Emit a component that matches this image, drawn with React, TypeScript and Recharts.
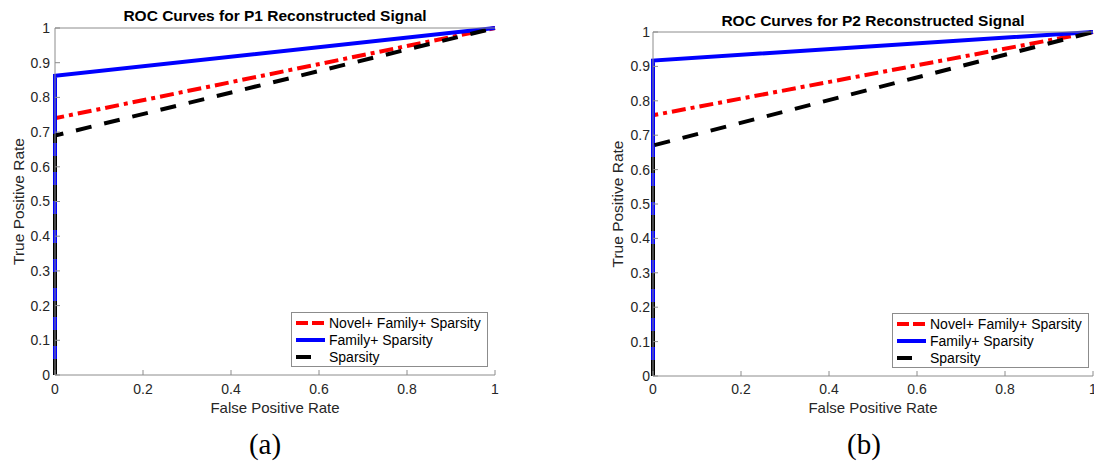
import React from 'react';
import { LineChart, Line, XAxis, YAxis, Legend, Label } from 'recharts';

// false positive rate is shared by every curve: (0,0) -> (0,tpr) -> (1,1)
const FPR = [0, 0, 1];

const P1_NOVEL = [0, 0.74, 1];
const P1_FAMILY = [0, 0.862, 1];
const P1_SPARSITY = [0, 0.69, 1];

const P2_NOVEL = [0, 0.758, 1];
const P2_FAMILY = [0, 0.917, 1];
const P2_SPARSITY = [0, 0.67, 1];

const SERIES_NAMES = ['Novel+ Family+ Sparsity', 'Family+ Sparsity', 'Sparsity'];
const X_TICKS = [0, 0.2, 0.4, 0.6, 0.8, 1];
const Y_TICKS = [0, 0.1, 0.2, 0.3, 0.4, 0.5, 0.6, 0.7, 0.8, 0.9, 1];

const SERIES_STYLE = [
  { color: '#ff0000', dash: '14 5 4 5', legendDash: '12 4' },
  { color: '#0000ff', dash: undefined, legendDash: undefined },
  { color: '#000000', dash: '16 13', legendDash: '15 30' },
];

const AXIS_GREY = '#8c8c8c';
const TEXT_DARK = '#262626';
const FONT = '"Liberation Sans", Arial, Helvetica, sans-serif';
const CHART_H = 420;
const X_AXIS_H = 40;
const TOP_AXIS_H = 1;

const toPoints = (tpr: number[]) => FPR.map((x, i) => ({ fpr: x, tpr: tpr[i] }));

const RocLegend = () => (
  <div
    style={{
      border: `1px solid ${AXIS_GREY}`,
      background: '#fff',
      width: 197,
      height: 55,
      boxSizing: 'border-box',
      padding: '1px 0 0 0',
      fontFamily: FONT,
    }}
  >
    {SERIES_NAMES.map((name, i) => (
      <div key={name} style={{ display: 'flex', alignItems: 'center', height: 17, fontSize: 14, color: '#000' }}>
        <svg width={37} height={10} style={{ flex: 'none' }}>
          <line
            x1={4}
            x2={33}
            y1={5}
            y2={5}
            stroke={SERIES_STYLE[i].color}
            strokeWidth={4}
            strokeDasharray={SERIES_STYLE[i].legendDash}
          />
        </svg>
        <span style={{ whiteSpace: 'nowrap' }}>{name}</span>
      </div>
    ))}
  </div>
);

interface PanelProps {
  title: string;
  curves: number[][];
  width: number;
  plotTop: number;
  plotBottom: number;
  marginLeft: number;
  marginRight: number;
  yTickMargin: number;
  xTickMargin: number;
  yLabelOffset: number;
  xLabelOffset: number;
  titleOffset: number;
  legendPos: { left: number; top: number };
}

const RocPanel: React.FC<PanelProps> = (p) => (
  <LineChart
    width={p.width}
    height={CHART_H}
    margin={{
      top: p.plotTop - TOP_AXIS_H,
      right: p.marginRight,
      left: p.marginLeft,
      bottom: CHART_H - p.plotBottom - X_AXIS_H,
    }}
    style={{ fontFamily: FONT }}
  >
    <XAxis
      xAxisId="b"
      type="number"
      dataKey="fpr"
      domain={[0, 1]}
      ticks={X_TICKS}
      interval={0}
      height={X_AXIS_H}
      tickSize={-5}
      tickMargin={p.xTickMargin}
      stroke={AXIS_GREY}
      tick={{ fill: TEXT_DARK, fontSize: 14 }}
    >
      <Label value="False Positive Rate" position="insideBottom" offset={p.xLabelOffset} fill={TEXT_DARK} fontSize={15} />
    </XAxis>
    <XAxis
      xAxisId="t"
      orientation="top"
      type="number"
      domain={[0, 1]}
      ticks={X_TICKS}
      interval={0}
      height={TOP_AXIS_H}
      tickSize={-5}
      tick={false}
      stroke={AXIS_GREY}
    >
      <Label value={p.title} position="top" offset={p.titleOffset} fill="#000" fontSize={15.5} fontWeight="bold" />
    </XAxis>
    <YAxis
      yAxisId="l"
      type="number"
      domain={[0, 1]}
      ticks={Y_TICKS}
      interval={0}
      width={30}
      tickSize={-5}
      tickMargin={p.yTickMargin}
      stroke={AXIS_GREY}
      tick={{ fill: TEXT_DARK, fontSize: 14 }}
    >
      <Label
        value="True Positive Rate"
        angle={-90}
        position="insideLeft"
        offset={p.yLabelOffset}
        fill={TEXT_DARK}
        fontSize={15.5}
        style={{ textAnchor: 'middle' }}
      />
    </YAxis>
    <YAxis
      yAxisId="r"
      orientation="right"
      type="number"
      domain={[0, 1]}
      ticks={Y_TICKS}
      interval={0}
      width={0}
      tickSize={-5}
      tick={false}
      stroke={AXIS_GREY}
    />
    {p.curves.map((tpr, i) => (
      <Line
        key={SERIES_NAMES[i]}
        xAxisId="b"
        yAxisId="l"
        data={toPoints(tpr)}
        dataKey="tpr"
        name={SERIES_NAMES[i]}
        type="linear"
        stroke={SERIES_STYLE[i].color}
        strokeWidth={4}
        strokeDasharray={SERIES_STYLE[i].dash}
        dot={false}
        activeDot={false}
        isAnimationActive={false}
      />
    ))}
    <Legend
      layout="horizontal"
      verticalAlign="middle"
      align="center"
      content={() => <RocLegend />}
      wrapperStyle={{ left: p.legendPos.left, top: p.legendPos.top, width: 'auto', bottom: 'auto' }}
    />
  </LineChart>
);

export default function App() {
  return (
    <div style={{ position: 'absolute', left: 0, top: 0, width: 1094, height: 468, background: '#fff', overflow: 'hidden' }}>
      <div style={{ position: 'absolute', left: 0, top: 0 }}>
        <RocPanel
          title="ROC Curves for P1 Reconstructed Signal"
          curves={[P1_NOVEL, P1_FAMILY, P1_SPARSITY]}
          width={520}
          plotTop={28}
          plotBottom={375}
          marginLeft={25}
          marginRight={25}
          yTickMargin={10}
          xTickMargin={14}
          yLabelOffset={-7}
          xLabelOffset={2}
          titleOffset={6}
          legendPos={{ left: 291, top: 312 }}
        />
      </div>
      <div style={{ position: 'absolute', left: 600, top: 0 }}>
        <RocPanel
          title="ROC Curves for P2 Reconstructed Signal"
          curves={[P2_NOVEL, P2_FAMILY, P2_SPARSITY]}
          width={494}
          plotTop={32}
          plotBottom={376}
          marginLeft={23}
          marginRight={1}
          yTickMargin={8}
          xTickMargin={13}
          yLabelOffset={-6}
          xLabelOffset={3}
          titleOffset={5}
          legendPos={{ left: 292, top: 313 }}
        />
      </div>
      <div style={{ position: 'absolute', left: 225, top: 428, width: 80, textAlign: 'center', fontFamily: '"Liberation Serif", "DejaVu Serif", serif', fontSize: 29 }}>
        (a)
      </div>
      <div style={{ position: 'absolute', left: 824, top: 428, width: 80, textAlign: 'center', fontFamily: '"Liberation Serif", "DejaVu Serif", serif', fontSize: 29 }}>
        (b)
      </div>
    </div>
  );
}
